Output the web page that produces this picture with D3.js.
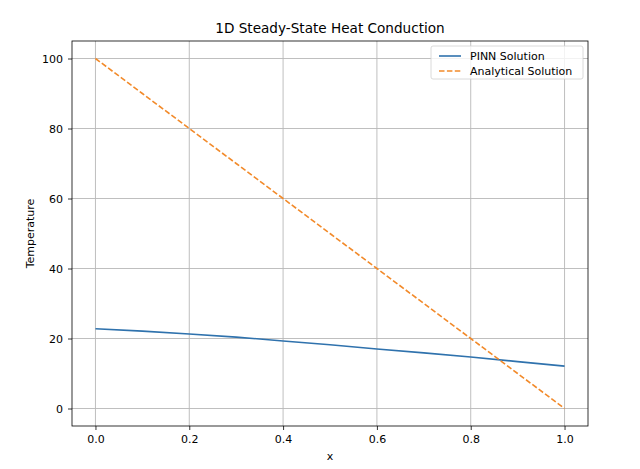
<!DOCTYPE html>
<html>
<head>
<meta charset="utf-8">
<script src="https://cdn.jsdelivr.net/npm/d3@7"></script>
<style>
  body { margin: 0; background: #fff; }
  text { font-family: 'DejaVu Sans', sans-serif; fill: #000; }
</style>
</head>
<body>
<svg id="chart" width="640" height="469"></svg>
<script>
const xValues = [0.0, 0.1, 0.2, 0.3, 0.4, 0.5, 0.6, 0.7, 0.8, 0.9, 1.0];
const pinnValues = [22.8, 22.1, 21.3, 20.4, 19.3, 18.2, 17.0, 15.9, 14.7, 13.4, 12.1];
const analyticalValues = [100, 90, 80, 70, 60, 50, 40, 30, 20, 10, 0];
const xTicks = [0.0, 0.2, 0.4, 0.6, 0.8, 1.0];
const yTicks = [0, 20, 40, 60, 80, 100];
const seriesNames = ['PINN Solution', 'Analytical Solution'];

const margin = { top: 41, right: 52, bottom: 43, left: 72 },
  width = 640,
  height = 469;

const svg = d3.select('#chart');

const x = d3.scaleLinear().domain([-0.05, 1.05]).range([margin.left, width - margin.right]);
const y = d3.scaleLinear().domain([-5, 105]).range([height - margin.bottom, margin.top]);

// grid
svg.append('g')
  .selectAll('line')
  .data(xTicks)
  .join('line')
  .attr('x1', d => x(d)).attr('x2', d => x(d))
  .attr('y1', margin.top).attr('y2', height - margin.bottom)
  .attr('stroke', '#b8b8b8').attr('stroke-width', 0.9);

svg.append('g')
  .selectAll('line')
  .data(yTicks)
  .join('line')
  .attr('y1', d => y(d)).attr('y2', d => y(d))
  .attr('x1', margin.left).attr('x2', width - margin.right)
  .attr('stroke', '#b8b8b8').attr('stroke-width', 0.9);

// axes
const xAxis = svg.append('g')
  .attr('transform', `translate(0,${height - margin.bottom})`)
  .call(d3.axisBottom(x).tickValues(xTicks).tickFormat(d3.format('.1f')).tickSize(4).tickPadding(5));
const yAxis = svg.append('g')
  .attr('transform', `translate(${margin.left},0)`)
  .call(d3.axisLeft(y).tickValues(yTicks).tickSize(4).tickPadding(5));

[xAxis, yAxis].forEach(g => {
  g.select('.domain').remove();
  g.selectAll('.tick line').attr('stroke', '#000').attr('stroke-width', 0.8);
  g.selectAll('.tick text').attr('font-size', 11).attr('fill', '#000')
    .attr('font-family', "'DejaVu Sans', sans-serif");
});

// lines
const line = vals => d3.line().x((d, i) => x(xValues[i])).y(d => y(d))(vals);

svg.append('path')
  .attr('d', line(pinnValues))
  .attr('fill', 'none').attr('stroke', '#2f72ad').attr('stroke-width', 1.6);

svg.append('path')
  .attr('d', line(analyticalValues))
  .attr('fill', 'none').attr('stroke', '#f28a2a').attr('stroke-width', 1.6)
  .attr('stroke-dasharray', '5.5,2.4');

// frame
svg.append('rect')
  .attr('x', margin.left).attr('y', margin.top)
  .attr('width', width - margin.left - margin.right)
  .attr('height', height - margin.top - margin.bottom)
  .attr('fill', 'none').attr('stroke', '#000').attr('stroke-width', 0.8);

// title and labels
svg.append('text')
  .attr('x', (margin.left + width - margin.right) / 2)
  .attr('y', 33)
  .attr('text-anchor', 'middle')
  .attr('font-size', 13.6)
  .text('1D Steady-State Heat Conduction');

svg.append('text')
  .attr('x', (margin.left + width - margin.right) / 2)
  .attr('y', 460)
  .attr('text-anchor', 'middle')
  .attr('font-size', 11)
  .text('x');

svg.append('text')
  .attr('transform', `translate(34,${(margin.top + height - margin.bottom) / 2}) rotate(-90)`)
  .attr('text-anchor', 'middle')
  .attr('font-size', 11)
  .text('Temperature');

// legend
const legend = svg.append('g').attr('transform', 'translate(431,46)');
legend.append('rect')
  .attr('width', 152).attr('height', 33).attr('rx', 2)
  .attr('fill', 'rgba(255,255,255,0.8)').attr('stroke', '#d0d0d0').attr('stroke-width', 0.8);

const colors = ['#2f72ad', '#f28a2a'];
const dashes = [null, '5.5,2.4'];
const rows = legend.selectAll('g.row')
  .data(seriesNames)
  .join('g')
  .attr('class', 'row')
  .attr('transform', (d, i) => `translate(0,${10 + i * 15})`);
rows.append('line')
  .attr('x1', 8).attr('x2', 30)
  .attr('stroke', (d, i) => colors[i]).attr('stroke-width', 1.6)
  .attr('stroke-dasharray', (d, i) => dashes[i]);
rows.append('text')
  .attr('x', 39).attr('dy', '0.35em')
  .attr('font-size', 11)
  .text(d => d);
</script>
</body>
</html>
